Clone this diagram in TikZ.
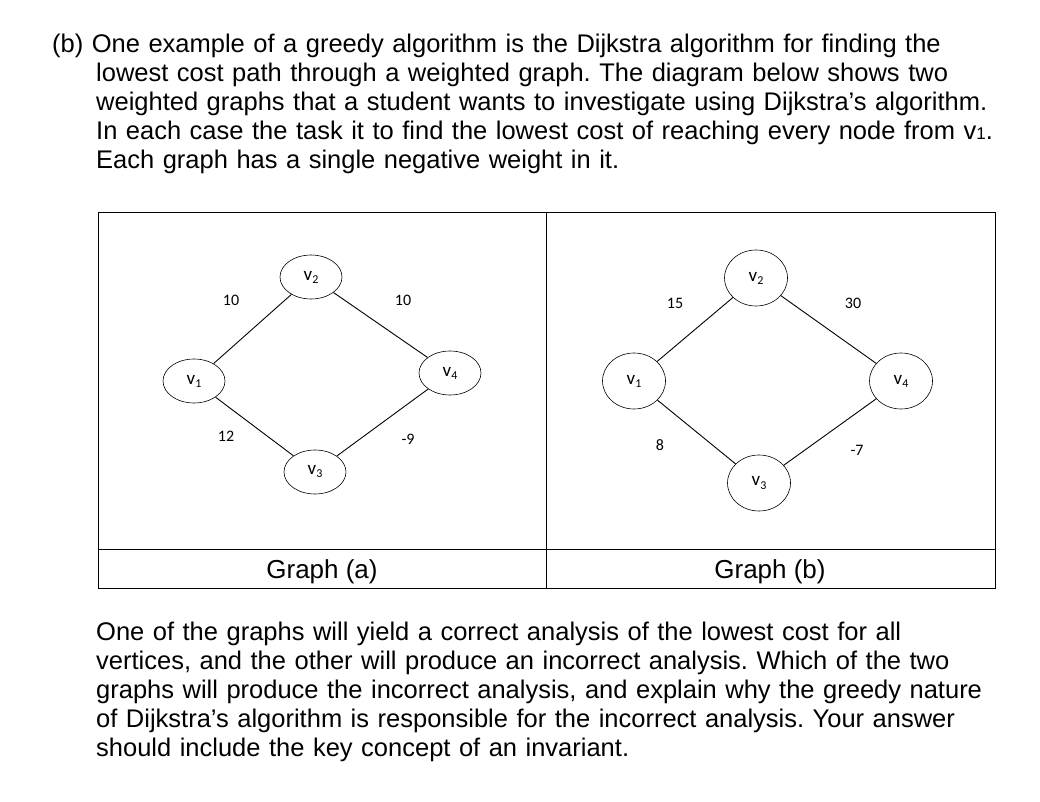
\documentclass[tikz,border=0pt]{standalone}
\usepackage{fontspec}
\setmainfont{Liberation Sans}
\newfontfamily\lblfont{Carlito}
\usetikzlibrary{shapes.geometric}
\newcommand{\vsub}[1]{v\raisebox{-3pt}{\fontsize{12}{12}\selectfont #1}}
\frenchspacing
\begin{document}
\begin{tikzpicture}[x=1pt,y=-1pt,
  vtx/.style={draw,ellipse,line width=0.6pt,minimum width=62pt,minimum height=44pt,inner sep=0pt,font=\lblfont\fontsize{19}{19}\selectfont},
  vtxb/.style={vtx,minimum width=63pt,minimum height=56pt},
  wlbl/.style={font=\lblfont\fontsize{16}{16}\selectfont},
  edge/.style={line width=0.9pt},
  para/.style={anchor=north west,align=left,text width=980pt,inner sep=0pt,font=\fontsize{25.5}{29}\selectfont},
  captxt/.style={font=\fontsize{26}{26}\selectfont}]
\useasboundingbox (0,0) rectangle (1040,802);
\node[para] (t1) at (52,34) {(b) One example of a greedy algorithm is the Dijkstra algorithm for finding the\\
\hspace*{44pt}lowest cost path through a weighted graph. The diagram below shows two\\
\hspace*{44pt}weighted graphs that a student wants to investigate using Dijkstra’s algorithm.\\
\hspace*{44pt}In each case the task it to find the lowest cost of reaching every node from v{\fontsize{17}{17}\selectfont 1}.\\
\hspace*{44pt}Each graph has a single negative weight in it.};
\draw[line width=0.6pt] (98,212) rectangle (995,588);
\draw[line width=0.6pt] (98,549) -- (995,549);
\draw[line width=0.6pt] (546,212) -- (546,588);
% graph a
\node[vtx] (a1) at (194,381) {\vsub{1}};
\node[vtx] (a2) at (311,277) {\vsub{2}};
\node[vtx] (a3) at (315,472) {\vsub{3}};
\node[vtx] (a4) at (450,373) {\vsub{4}};
\draw[edge] (a1) -- (a2);
\draw[edge] (a2) -- (a4);
\draw[edge] (a1) -- (a3);
\draw[edge] (a3) -- (a4);
\node[wlbl] (wa12) at (231,300) {10};
\node[wlbl] (wa24) at (403,300) {10};
\node[wlbl] (wa13) at (226,436) {12};
\node[wlbl] (wa34) at (408,439) {-9};
% graph b
\node[vtxb] (b1) at (634,381) {\vsub{1}};
\node[vtxb] (b2) at (756,278) {\vsub{2}};
\node[vtxb] (b3) at (759,483) {\vsub{3}};
\node[vtxb] (b4) at (901,381) {\vsub{4}};
\draw[edge] (b1) -- (b2);
\draw[edge] (b2) -- (b4);
\draw[edge] (b1) -- (b3);
\draw[edge] (b3) -- (b4);
\node[wlbl] (wb12) at (675,303) {15};
\node[wlbl] (wb24) at (853,303) {30};
\node[wlbl] (wb13) at (660,445) {8};
\node[wlbl] (wb34) at (857,450) {-7};
\node[captxt] (ca) at (322,572) {Graph (a)};
\node[captxt] (cb) at (770,572) {Graph (b)};
\node[para] (t2) at (96,622) {One of the graphs will yield a correct analysis of the lowest cost for all\\
vertices, and the other will produce an incorrect analysis. Which of the two\\
graphs will produce the incorrect analysis, and explain why the greedy nature\\
of Dijkstra’s algorithm is responsible for the incorrect analysis. Your answer\\
should include the key concept of an invariant.};
\end{tikzpicture}
\end{document}
